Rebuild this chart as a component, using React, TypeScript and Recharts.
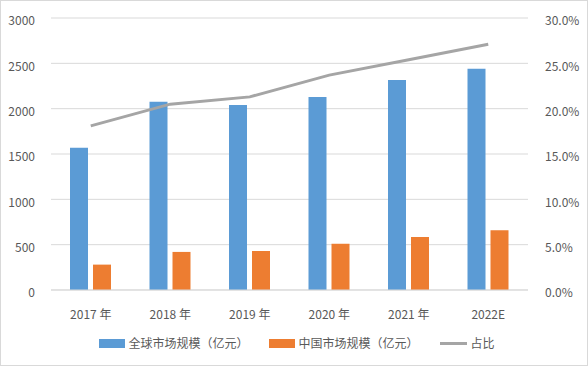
import {
  Bar,
  CartesianGrid,
  ComposedChart,
  Legend,
  Line,
  XAxis,
  YAxis,
} from "recharts";

const categories = ["2017 年", "2018 年", "2019 年", "2020 年", "2021 年", "2022E"];
const globalMarket = [1570, 2075, 2040, 2130, 2315, 2440];
const chinaMarket = [280, 420, 430, 510, 585, 660];
const shareRatio = [0.181, 0.205, 0.213, 0.237, 0.254, 0.271];

const leftTicks = [0, 500, 1000, 1500, 2000, 2500, 3000];
const rightTicks = [0, 0.05, 0.1, 0.15, 0.2, 0.25, 0.3];

const SERIES = [
  { key: "global", name: "全球市场规模（亿元）", color: "#5b9bd5", kind: "bar" },
  { key: "china", name: "中国市场规模（亿元）", color: "#ed7d31", kind: "bar" },
  { key: "share", name: "占比", color: "#a5a5a5", kind: "line" },
];

const TEXT = "#595959";
const GRID = "#d9d9d9";
const FONT = "'Noto Sans CJK SC', 'Noto Sans', sans-serif";

const chartData = categories.map((name, i) => ({
  name,
  global: globalMarket[i],
  china: chinaMarket[i],
  share: shareRatio[i],
}));

function LegendRow() {
  return (
    <div
      style={{
        display: "flex",
        justifyContent: "center",
        alignItems: "center",
        gap: 21,
        height: 18,
        paddingLeft: 6,
        fontSize: 12,
        color: TEXT,
        fontFamily: FONT,
      }}
    >
      {SERIES.map((s) => (
        <div key={s.key} style={{ display: "flex", alignItems: "center" }}>
          {s.kind === "bar" ? (
            <span style={{ width: 26, height: 9, background: s.color, marginRight: 3 }} />
          ) : (
            <span style={{ width: 27, height: 3, background: s.color, marginRight: 4 }} />
          )}
          <span style={{ lineHeight: "18px" }}>{s.name}</span>
        </div>
      ))}
    </div>
  );
}

export default function App() {
  return (
    <div
      style={{
        position: "absolute",
        left: 0,
        top: 0,
        width: 588,
        height: 366,
        boxSizing: "border-box",
        border: `1px solid ${GRID}`,
        background: "#fff",
        fontFamily: FONT,
      }}
    >
      <ComposedChart
        width={586}
        height={364}
        data={chartData}
        margin={{ top: 17, right: 0, left: 0, bottom: 13 }}
        barSize={18}
        barGap={5}
      >
        <CartesianGrid yAxisId="left" vertical={false} stroke={GRID} />
        <XAxis
          dataKey="name"
          height={44}
          axisLine={{ stroke: GRID }}
          tickLine={false}
          tickSize={0}
          tickMargin={20}
          tick={{ fill: TEXT, fontSize: 12 }}
        />
        <YAxis
          yAxisId="left"
          width={50}
          domain={[0, 3000]}
          ticks={leftTicks}
          axisLine={false}
          tickLine={false}
          tickSize={0}
          tickMargin={16}
          tick={{ fill: TEXT, fontSize: 12, dy: 3 }}
        />
        <YAxis
          yAxisId="right"
          orientation="right"
          width={59}
          domain={[0, 0.3]}
          ticks={rightTicks}
          axisLine={false}
          tickLine={false}
          tickSize={0}
          tickMargin={17}
          tickFormatter={(v) => `${(Number(v) * 100).toFixed(1)}%`}
          tick={{ fill: TEXT, fontSize: 12, dy: 3 }}
        />
        <Legend verticalAlign="bottom" height={18} content={() => <LegendRow />} />
        <Bar
          yAxisId="left"
          dataKey="global"
          name={SERIES[0].name}
          fill={SERIES[0].color}
          isAnimationActive={false}
        />
        <Bar
          yAxisId="left"
          dataKey="china"
          name={SERIES[1].name}
          fill={SERIES[1].color}
          isAnimationActive={false}
        />
        <Line
          yAxisId="right"
          type="linear"
          dataKey="share"
          name={SERIES[2].name}
          stroke={SERIES[2].color}
          strokeWidth={3}
          dot={false}
          activeDot={false}
          isAnimationActive={false}
        />
      </ComposedChart>
    </div>
  );
}
